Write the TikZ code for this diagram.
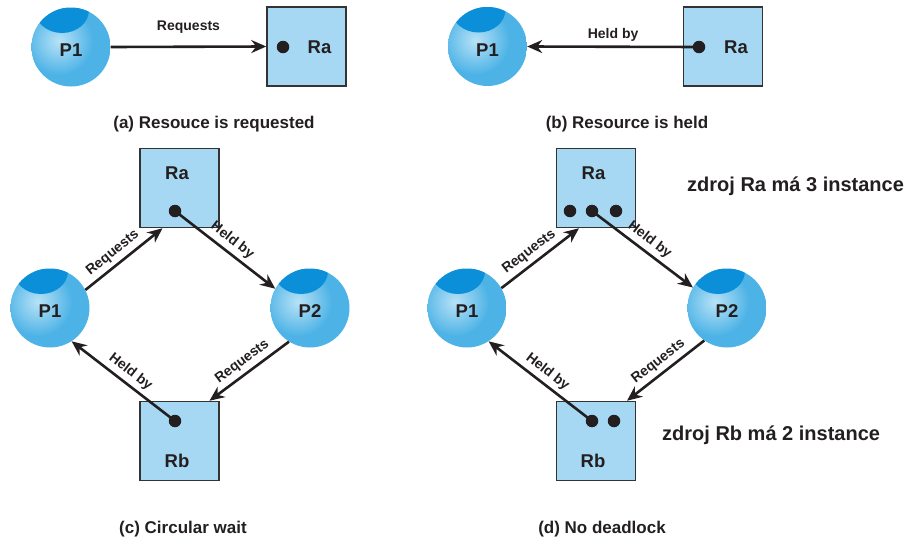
\documentclass[tikz,border=0pt]{standalone}
\usepackage{fontspec}
\setmainfont{Liberation Sans}
\usetikzlibrary{arrows.meta}
\definecolor{ink}{HTML}{231F20}
\definecolor{procbase}{HTML}{4DB3E6}
\definecolor{proclight}{HTML}{B8E2F7}
\definecolor{proccap}{HTML}{0A8FD8}
\definecolor{resfill}{HTML}{A6D8F4}
\definecolor{resline}{HTML}{333333}

\begin{document}
\begin{tikzpicture}[x=1pt,y=-1pt,
  proc/.style={circle, minimum size=79pt, inner sep=0pt, text=ink,
    font=\bfseries\fontsize{18.5}{18.5}\selectfont, text height=19pt, text depth=0pt,
    path picture={
      \fill[procbase] (path picture bounding box.south west) rectangle (path picture bounding box.north east);
      \shade[inner color=proclight, outer color=procbase]
        ([xshift=-12pt,yshift=6pt]path picture bounding box.center) circle (34pt);
      \fill[proccap] ([xshift=-9pt,yshift=37pt]path picture bounding box.center) ellipse (27pt and 23pt);
    }},
  res/.style={rectangle, minimum size=79pt, inner sep=0pt, fill=resfill, draw=resline, line width=1.5pt},
  resname/.style={anchor=base, inner sep=0pt, text=ink, font=\bfseries\fontsize{18.5}{18.5}\selectfont},
  inst/.style={circle, fill=ink, minimum size=12.5pt, inner sep=0pt},
  arr/.style={draw=ink, line width=2.6pt, -{Stealth[length=15pt,width=13pt,inset=5pt]}},
  edgetext/.style={inner sep=0pt, text=ink, font=\bfseries\fontsize{14}{14}\selectfont},
  caption/.style={anchor=base, inner sep=0pt, text=ink, font=\bfseries\fontsize{17}{17}\selectfont},
  note/.style={anchor=base west, inner sep=0pt, text=ink, font=\bfseries\fontsize{20}{20}\selectfont}
]
\useasboundingbox (0,0) rectangle (910,541);

% (a) resource is requested
\node[proc] (P1a) at (71,47) {P1};
\node[res] (Raa) at (306.5,46.5) {};
\node[inst] (da) at (283,47) {};
\node[resname] (Raat) at (319.5,53) {Ra};
\draw[arr] (P1a.east) -- node[edgetext, above=12pt] (la) {Requests} (Raa.west);
\node[caption] (capa) at (214,128) {(a) Resouce is requested};

% (b) resource is held
\node[proc] (P1b) at (487.5,46.5) {P1};
\node[res] (Rab) at (723,46.5) {};
\node[inst] (db) at (699,47) {};
\node[resname] (Rabt) at (736,53) {Ra};
\draw[arr] (db.center) -- node[edgetext, above=4pt] (lb) {Held by} (P1b.east);
\node[caption] (capb) at (627,128) {(b) Resource is held};

% (c) circular wait
\node[proc] (P1c) at (50,308) {P1};
\node[proc] (P2c) at (310,308) {P2};
\node[res] (Rac) at (179.5,188) {};
\node[resname] (Ract) at (177,179) {Ra};
\node[inst] (dca) at (175,211) {};
\node[res] (Rbc) at (179.5,441) {};
\node[resname] (Rbct) at (177,467) {Rb};
\node[inst] (dcb) at (175,421) {};
\draw[arr] (P1c.27) -- node[edgetext, sloped, above=4pt, pos=.45] (lc1) {Requests} ([xshift=-17pt]Rac.south);
\draw[arr] (dca.center) -- node[edgetext, sloped, above=4pt, pos=.5] (lc2) {Held by} (P2c.151);
\draw[arr] (P2c.238) -- node[edgetext, sloped, above=4pt, pos=.5] (lc3) {Requests} ([xshift=30pt]Rbc.north);
\draw[arr] (dcb.center) -- node[edgetext, sloped, above=4pt, pos=.5] (lc4) {Held by} (P1c.-57);
\node[caption] (capc) at (183,533) {(c) Circular wait};

% (d) no deadlock
\node[proc] (P1d) at (467,308) {P1};
\node[proc] (P2d) at (727,308) {P2};
\node[res] (Rad) at (596,188) {};
\node[resname] (Radt) at (593.5,179) {Ra};
\node[inst] (dd1) at (570,211) {};
\node[inst] (dd2) at (592,211) {};
\node[inst] (dd3) at (616,211) {};
\node[res] (Rbd) at (596,441) {};
\node[resname] (Rbdt) at (593,467) {Rb};
\node[inst] (dd4) at (592,421) {};
\node[inst] (dd5) at (614,421) {};
\draw[arr] (P1d.30) -- node[edgetext, sloped, above=4pt, pos=.45] (ld1) {Requests} ([xshift=-17pt]Rad.south);
\draw[arr] (dd2.center) -- node[edgetext, sloped, above=4pt, pos=.5] (ld2) {Held by} (P2d.149);
\draw[arr] (P2d.235) -- node[edgetext, sloped, above=4pt, pos=.5] (ld3) {Requests} ([xshift=31pt]Rbd.north);
\draw[arr] (dd4.center) -- node[edgetext, sloped, above=4pt, pos=.5] (ld4) {Held by} (P1d.-57);
\node[note] (na) at (687,191) {zdroj Ra má 3 instance};
\node[note] (nb) at (662,440) {zdroj Rb má 2 instance};
\node[caption] (capd) at (602,533) {(d) No deadlock};
\end{tikzpicture}
\end{document}
